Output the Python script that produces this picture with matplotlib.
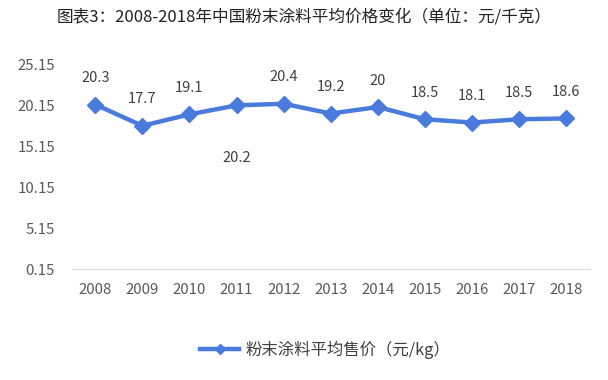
import matplotlib.pyplot as plt
from matplotlib.lines import Line2D

plt.rcParams['font.family'] = ['Noto Sans CJK SC', 'DejaVu Sans']

years = ['2008', '2009', '2010', '2011', '2012', '2013', '2014', '2015', '2016', '2017', '2018']
prices = [20.3, 17.7, 19.1, 20.2, 20.4, 19.2, 20.0, 18.5, 18.1, 18.5, 18.6]
labels = ['20.3', '17.7', '19.1', '20.2', '20.4', '19.2', '20', '18.5', '18.1', '18.5', '18.6']
yticks = [0.15, 5.15, 10.15, 15.15, 20.15, 25.15]

blue = '#4a7bdc'
grey = '#595959'

fig = plt.figure(figsize=(6.08, 3.8), dpi=100)
ax = fig.add_axes([0.118, 0.292, 0.852, 0.537])

x = list(range(len(years)))
ax.plot(x, prices, color=blue, lw=3.2, marker='D', ms=8, mfc=blue, mec=blue)

for i, (v, t) in enumerate(zip(prices, labels)):
    if years[i] == '2011':
        ax.annotate(t, (i, v), xytext=(0, -38), textcoords='offset points',
                    ha='center', va='center', fontsize=10.5, color='#404040')
    else:
        ax.annotate(t, (i, v), xytext=(0, 19), textcoords='offset points',
                    ha='center', va='center', fontsize=10.5, color='#404040')

ax.set_xlim(-0.5, len(years) - 0.5)
ax.set_ylim(0.15, 25.15)
ax.set_yticks(yticks)
ax.set_yticklabels([f'{t:.2f}' for t in yticks])
ax.set_xticks(x)
ax.set_xticklabels(years)
ax.tick_params(axis='both', length=0, labelsize=10.8, labelcolor=grey)
ax.tick_params(axis='y', pad=12)
ax.tick_params(axis='x', pad=10)
for s in ['top', 'right', 'left']:
    ax.spines[s].set_visible(False)
ax.spines['bottom'].set_color('#d9d9d9')

fig.text(0.5, 0.955, '图表3：2008-2018年中国粉末涂料平均价格变化（单位：元/千克）',
         ha='center', va='center', fontsize=12, color='#222222')

handle = Line2D([], [], color=blue, lw=3.2, marker='D', ms=5, mfc=blue, mec=blue)
fig.legend([handle], ['粉末涂料平均售价（元/kg）'], loc='center', bbox_to_anchor=(0.535, 0.08),
           frameon=False, fontsize=11.8, handlelength=2.4, handletextpad=0.4,
           labelcolor='#404040')

fig.savefig('out.png', dpi=100)
